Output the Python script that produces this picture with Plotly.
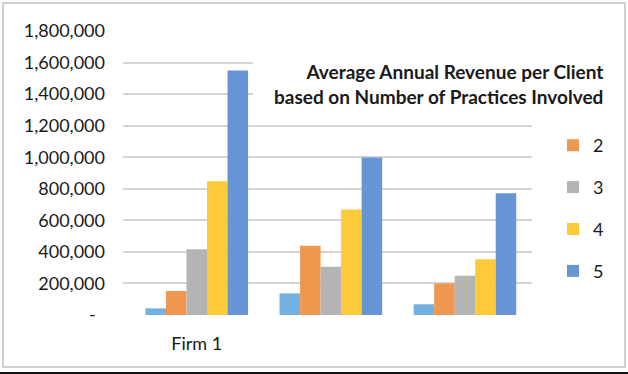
import plotly.graph_objects as go

# ---- data ----
group_positions = [0, 1, 2]
group_labels = ["Firm 1", "", ""]
series_names = ["1", "2", "3", "4", "5"]
series_values = {
    "1": [42000, 137000, 68000],
    "2": [152000, 439000, 200000],
    "3": [416000, 306000, 249000],
    "4": [848000, 669000, 354000],
    "5": [1550000, 998000, 772000],
}
series_colors = {
    "1": "#74b0e0",
    "2": "#f0974f",
    "3": "#b4b4b4",
    "4": "#fdca3a",
    "5": "#6694d4",
}
show_in_legend = {"1": False, "2": True, "3": True, "4": True, "5": True}
y_tick_values = [0, 200000, 400000, 600000, 800000, 1000000, 1200000, 1400000, 1600000, 1800000]
y_tick_labels = ["-\u00a0\u00a0", "200,000", "400,000", "600,000", "800,000", "1,000,000",
                 "1,200,000", "1,400,000", "1,600,000", "1,800,000"]
title_text = "<b>Average Annual Revenue per Client<br>based on Number of Practices Involved</b>"

W, H = 628, 374
L, R, T, B = 123, 628 - 532, 31, 374 - 315
PW, PH = W - L - R, H - T - B


def px_x(p):
    return (p - L) / PW


def px_y(p):
    return (H - B - p) / PH


FONT = "Lato, 'Open Sans', sans-serif"

fig = go.Figure()
for name in series_names:
    fig.add_trace(go.Bar(
        x=group_positions,
        y=series_values[name],
        name=name,
        marker=dict(color=series_colors[name], line=dict(width=0)),
        showlegend=show_in_legend[name],
        legendgroup=name,
    ))

fig.update_layout(
    width=W, height=H,
    margin=dict(l=L, r=R, t=T, b=B, pad=0, autoexpand=False),
    paper_bgcolor="white",
    plot_bgcolor="white",
    barmode="group",
    bargap=0.235,
    bargroupgap=0,
    font=dict(family=FONT, size=18, color="#1a1a1a"),
    xaxis=dict(
        range=[-0.55, 2.5],
        tickmode="array",
        tickvals=group_positions,
        ticktext=group_labels,
        showgrid=False,
        zeroline=False,
        showline=False,
        ticks="",
        ticklabelstandoff=16,
        tickfont=dict(size=18),
    ),
    yaxis=dict(
        range=[0, 1800000],
        tickmode="array",
        tickvals=y_tick_values,
        ticktext=y_tick_labels,
        showgrid=True,
        gridcolor="#d4d4d4",
        gridwidth=1.5,
        zeroline=False,
        showline=False,
        ticks="",
        ticklabelstandoff=17,
        tickfont=dict(size=18),
    ),
    legend=dict(
        x=px_x(553), y=px_y(127),
        xanchor="left", yanchor="top",
        font=dict(size=18),
        tracegroupgap=15.5,
        bgcolor="rgba(0,0,0,0)",
    ),
    shapes=[
        dict(type="rect", xref="paper", yref="paper",
             x0=px_x(253), x1=px_x(545), y0=px_y(45), y1=px_y(110),
             fillcolor="white", line=dict(width=0), layer="above"),
        dict(type="rect", xref="paper", yref="paper",
             x0=px_x(3), x1=px_x(625), y0=px_y(367), y1=px_y(3),
             fillcolor="rgba(0,0,0,0)", line=dict(color="#d0d0d0", width=2), layer="below"),
        dict(type="line", xref="paper", yref="paper",
             x0=px_x(0), x1=px_x(628), y0=px_y(373), y1=px_y(373),
             line=dict(color="#111111", width=2), layer="above"),
    ],
    annotations=[
        dict(text=title_text, xref="paper", yref="paper",
             x=px_x(605), y=px_y(84), xanchor="right", yanchor="middle",
             align="right", showarrow=False,
             font=dict(size=19, color="#1a1a1a", family=FONT)),
    ],
)

fig.write_html(
    "out.html",
    config={"displayModeBar": False},
    post_script="document.body.style.margin='0';document.body.style.overflow='hidden';",
)
